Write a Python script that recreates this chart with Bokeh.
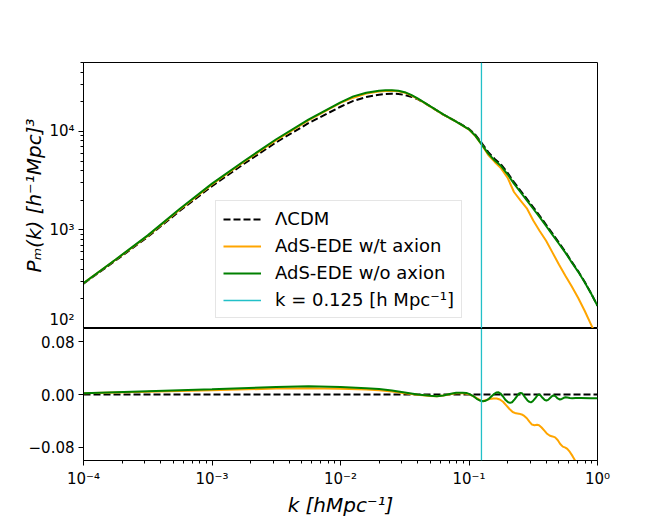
import numpy as np
from bokeh.plotting import figure
from bokeh.models import (Range1d, Span, Legend, LegendItem, CustomJSTickFormatter,
                          FixedTicker)
from bokeh.layouts import column
from bokeh.embed import file_html
from bokeh.resources import INLINE

# ---------------- data ----------------
k_mark = 0.125

logk_top = [-4.0, -3.75, -3.5, -3.25, -3.0, -2.75, -2.5, -2.25, -2.0, -1.9, -1.8, -1.7,
            -1.65, -1.6, -1.55, -1.5, -1.45, -1.4, -1.35, -1.3, -1.2, -1.1, -1.0, -0.95,
            -0.9, -0.85, -0.8, -0.75, -0.7, -0.65, -0.6, -0.55, -0.5, -0.45, -0.4, -0.35,
            -0.3, -0.25, -0.2, -0.15, -0.1, -0.05, 0.0]

logP_lcdm = [2.455, 2.69, 2.93, 3.195, 3.445, 3.672, 3.89, 4.083, 4.25, 4.31, 4.348, 4.372,
             4.379, 4.382, 4.380, 4.370, 4.352, 4.327, 4.292, 4.252, 4.17, 4.10, 4.025, 3.965,
             3.88, 3.79, 3.72, 3.663, 3.58, 3.485, 3.40, 3.315, 3.23, 3.144, 3.053, 2.962,
             2.87, 2.778, 2.676, 2.58, 2.474, 2.357, 2.231]

logP_wt_axion = [2.46, 2.697, 2.94, 3.208, 3.462, 3.692, 3.912, 4.112, 4.29, 4.342, 4.385, 4.405,
                 4.410, 4.412, 4.407, 4.393, 4.365, 4.330, 4.292, 4.251, 4.17, 4.098, 4.018, 3.952,
                 3.862, 3.76, 3.69, 3.625, 3.53, 3.385, 3.30, 3.22, 3.095, 2.99, 2.89, 2.77,
                 2.65, 2.535, 2.425, 2.31, 2.18, 2.04, 1.90]

logP_wo_axion = [2.46, 2.70, 2.945, 3.215, 3.47, 3.70, 3.92, 4.12, 4.295, 4.355, 4.392, 4.412,
                 4.417, 4.418, 4.412, 4.398, 4.370, 4.334, 4.295, 4.253, 4.172, 4.100, 4.020, 3.955,
                 3.865, 3.775, 3.705, 3.648, 3.565, 3.470, 3.385, 3.300, 3.215, 3.130, 3.040, 2.950,
                 2.860, 2.770, 2.670, 2.575, 2.470, 2.355, 2.230]

# relative difference panel
logk_ratio_wo = [-4.0, -3.5, -3.0, -2.5, -2.25, -2.0, -1.8, -1.7, -1.6, -1.5, -1.4, -1.3, -1.25,
                 -1.2, -1.15, -1.1, -1.05, -1.02, -1.0, -0.97, -0.94, -0.91, -0.89, -0.87, -0.845,
                 -0.82, -0.8, -0.785, -0.77, -0.755, -0.735, -0.715, -0.695, -0.68, -0.665, -0.645,
                 -0.625, -0.61, -0.598, -0.585, -0.565, -0.545, -0.53, -0.518, -0.505, -0.485,
                 -0.468, -0.457, -0.445, -0.428, -0.41, -0.397, -0.384, -0.365, -0.35, -0.34,
                 -0.328, -0.31, -0.293, -0.278, -0.262, -0.249, -0.235, -0.215, -0.197, -0.17,
                 -0.13, -0.05, 0.0]
ratio_wo = [0.002, 0.005, 0.008, 0.0115, 0.0125, 0.0115, 0.0095, 0.0085, 0.006, 0.003, 0.0,
            -0.002, -0.0025, -0.0015, 0.0008, 0.0025, 0.0028, 0.0022, 0.001, -0.002, -0.0065,
            -0.0095, -0.0102, -0.0095, -0.0065, -0.002, 0.0015, 0.0032, 0.0034, 0.0015, -0.003,
            -0.0085, -0.0118, -0.0127, -0.0118, -0.0075, -0.002, 0.0015, 0.0025, 0.0015, -0.004,
            -0.009, -0.0112, -0.0117, -0.0105, -0.006, -0.0015, 0.0, -0.001, -0.005, -0.0083,
            -0.0091, -0.0082, -0.0045, -0.002, -0.0015, -0.0025, -0.006, -0.0076, -0.0068,
            -0.005, -0.0041, -0.0045, -0.0054, -0.0056, -0.0052, -0.0052, -0.0055, -0.0055]

logk_ratio_wt = [-4.0, -3.5, -3.0, -2.5, -2.25, -2.0, -1.8, -1.7, -1.6, -1.5, -1.4, -1.3, -1.25,
                 -1.2, -1.15, -1.1, -1.05, -1.0, -0.95, -0.9, -0.87, -0.84, -0.81, -0.785, -0.76,
                 -0.735, -0.71, -0.685, -0.66, -0.635, -0.612, -0.59, -0.57, -0.55, -0.53, -0.51,
                 -0.49, -0.47, -0.455, -0.435, -0.415, -0.395, -0.37, -0.35, -0.33, -0.31, -0.29,
                 -0.27, -0.25, -0.235, -0.215, -0.195, -0.17, -0.1, 0.0]
ratio_wt = [0.002, 0.004, 0.0065, 0.009, 0.0095, 0.0088, 0.0075, 0.0065, 0.0045, 0.002, -0.0005,
            -0.0022, -0.0025, -0.0015, 0.0005, 0.002, 0.0022, 0.0005, -0.0045, -0.0102, -0.0085,
            -0.0068, -0.006, -0.006, -0.0075, -0.011, -0.0165, -0.022, -0.0265, -0.0285, -0.029,
            -0.0302, -0.0325, -0.036, -0.041, -0.0455, -0.0465, -0.0458, -0.0465, -0.050, -0.0545,
            -0.059, -0.0625, -0.0635, -0.065, -0.069, -0.075, -0.079, -0.0805, -0.0825, -0.087,
            -0.093, -0.1015, -0.118, -0.14]

logk_ratio_lcdm = [-4.0, 0.0]
ratio_lcdm = [0.0, 0.0]

labels = ["\u039bCDM", "AdS-EDE w/t axion", "AdS-EDE w/o axion", "k = 0.125 [h Mpc\u207b\u00b9]"]

# ---------------- styling ----------------
FONT = "DejaVu Sans"
C_LCDM = "black"
C_WT = "orange"
C_WO = "green"
C_K = "#22C0C8"

xr = Range1d(1e-4, 1.0)

sup_fmt = CustomJSTickFormatter(code="""
const e = Math.round(Math.log10(tick));
const sup = {'-':'\\u207b','0':'\\u2070','1':'\\u00b9','2':'\\u00b2','3':'\\u00b3',
             '4':'\\u2074','5':'\\u2075','6':'\\u2076','7':'\\u2077','8':'\\u2078','9':'\\u2079'};
return '10' + String(e).split('').map(c => sup[c]).join('');
""")

def log_minor(lo, hi):
    out = []
    for d in range(lo, hi):
        for m in range(2, 10):
            out.append(m * 10.0 ** d)
    return out

def style_axis(ax):
    ax.major_label_text_font = FONT
    ax.major_label_text_font_size = "15px"
    ax.major_label_text_color = "black"
    ax.axis_line_color = "black"
    ax.major_tick_line_color = "black"
    ax.minor_tick_line_color = "black"
    ax.major_tick_out = 5
    ax.major_tick_in = 0
    ax.minor_tick_out = 3
    ax.minor_tick_in = 0
    ax.major_label_standoff = 4
    ax.axis_label_text_font = FONT
    ax.axis_label_text_font_size = "20px"
    ax.axis_label_text_font_style = "italic"
    ax.axis_label_text_color = "black"

# ---------------- top panel ----------------
p1 = figure(width=664, height=328, x_axis_type="log", y_axis_type="log",
            x_range=xr, y_range=Range1d(100, 5e4),
            output_backend="svg", toolbar_location=None,
            min_border_left=83, min_border_right=67, min_border_top=62, min_border_bottom=0)
p1.xgrid.visible = False
p1.ygrid.visible = False
p1.outline_line_color = "black"
p1.outline_line_alpha = 1.0
p1.xaxis.visible = False

k_top = 10.0 ** np.array(logk_top)
r_lcdm = p1.line(k_top, 10.0 ** np.array(logP_lcdm), line_color=C_LCDM, line_width=2,
                 line_dash="7 3")
r_wt = p1.line(k_top, 10.0 ** np.array(logP_wt_axion), line_color=C_WT, line_width=2)
r_wo = p1.line(k_top, 10.0 ** np.array(logP_wo_axion), line_color=C_WO, line_width=2)
r_k = p1.line(x=[k_mark, k_mark], y=[np.nan, np.nan], line_color=C_K, line_width=1.5)
p1.add_layout(Span(location=k_mark, dimension="height", line_color=C_K, line_width=1.3))

p1.yaxis.ticker = FixedTicker(ticks=[1e2, 1e3, 1e4], minor_ticks=log_minor(2, 5))
p1.yaxis.formatter = sup_fmt
p1.yaxis.axis_label = "P\u2098(k) [h\u207b\u00b9Mpc]\u00b3"
p1.yaxis.axis_label_standoff = 0
style_axis(p1.yaxis[0])

legend = Legend(items=[LegendItem(label=labels[0], renderers=[r_lcdm]),
                       LegendItem(label=labels[1], renderers=[r_wt]),
                       LegendItem(label=labels[2], renderers=[r_wo]),
                       LegendItem(label=labels[3], renderers=[r_k])],
                location=(132, 10))
legend.label_text_font = FONT
legend.label_text_font_size = "18px"
legend.label_text_color = "black"
legend.glyph_width = 38
legend.glyph_height = 20
legend.label_height = 20
legend.label_standoff = 14
legend.spacing = 6
legend.padding = 7
legend.margin = 0
legend.border_line_color = "#cccccc"
legend.border_line_width = 1
legend.background_fill_alpha = 0.8
p1.add_layout(legend)

# ---------------- bottom panel ----------------
p2 = figure(width=664, height=191, x_axis_type="log",
            x_range=xr, y_range=Range1d(-0.1, 0.1),
            output_backend="svg", toolbar_location=None,
            min_border_left=83, min_border_right=67, min_border_top=0, min_border_bottom=58)
p2.xgrid.visible = False
p2.ygrid.visible = False
p2.outline_line_color = "black"
p2.outline_line_alpha = 1.0

p2.line(10.0 ** np.array(logk_ratio_lcdm), ratio_lcdm, line_color=C_LCDM, line_width=2,
        line_dash="7 3")
p2.line(10.0 ** np.array(logk_ratio_wt), ratio_wt, line_color=C_WT, line_width=2)
p2.line(10.0 ** np.array(logk_ratio_wo), ratio_wo, line_color=C_WO, line_width=2)
p2.add_layout(Span(location=k_mark, dimension="height", line_color=C_K, line_width=1.3))

p2.xaxis.ticker = FixedTicker(ticks=[1e-4, 1e-3, 1e-2, 1e-1, 1.0], minor_ticks=log_minor(-4, 0))
p2.xaxis.formatter = sup_fmt
p2.xaxis.axis_label = "k [hMpc\u207b\u00b9]"
p2.xaxis.axis_label_standoff = 2
style_axis(p2.xaxis[0])

p2.yaxis.ticker = FixedTicker(ticks=[-0.08, 0.0, 0.08])
p2.yaxis.formatter = CustomJSTickFormatter(code="""
const s = Math.abs(tick).toFixed(2);
return tick < -1e-9 ? '\\u2212' + s : s;
""")
style_axis(p2.yaxis[0])
p2.yaxis.minor_tick_line_color = None

layout = column(p1, p2, spacing=0)
open("out.html", "w").write(file_html(layout, INLINE))
